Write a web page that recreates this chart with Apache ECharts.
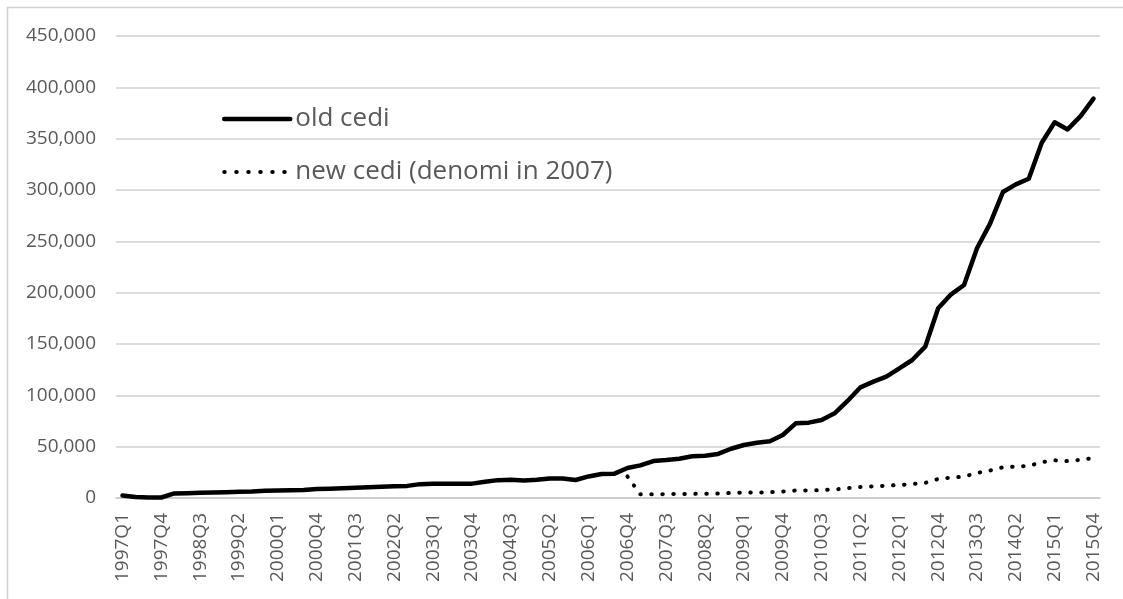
<!DOCTYPE html>
<html>
<head>
<meta charset="utf-8">
<script src="https://cdn.jsdelivr.net/npm/echarts@6/dist/echarts.min.js"></script>
<style>
  html, body { margin: 0; padding: 0; background: #fff; }
  #chart { width: 1123px; height: 599px; }
</style>
</head>
<body>
<div id="chart"></div>
<script>
// quarters 1997Q1 .. 2015Q4
var years = [];
for (var y = 1997; y <= 2015; y++) years.push(y);
var quarters = [];
years.forEach(function (yr) {
  [1, 2, 3, 4].forEach(function (q) { quarters.push(yr + 'Q' + q); });
});

// old cedi
var oldCedi = [
  2500, 1000, 500, 500, 4500, 4700, 5000, 5300, 5600, 6000,
  6300, 7000, 7300, 7500, 7700, 8700, 9000, 9500, 10000, 10500,
  11000, 11500, 11800, 13500, 13800, 13800, 13800, 14000, 15800, 17400,
  17700, 17000, 17700, 19000, 19000, 17500, 21000, 23400, 23700, 29200,
  31800, 36000, 37000, 38300, 40600, 41200, 42900, 48000, 51600, 53900,
  55200, 61400, 72700, 73400, 76000, 82500, 94500, 107800, 113300, 118200,
  126300, 134400, 147400, 184800, 198400, 207500, 243200, 267000, 298000, 305500,
  311000, 346000, 366000, 359000, 372000, 389000
];

// new cedi (starts 2006Q4)
var newCedi = [
  null, null, null, null, null, null, null, null, null, null,
  null, null, null, null, null, null, null, null, null, null,
  null, null, null, null, null, null, null, null, null, null,
  null, null, null, null, null, null, null, null, null, 21000,
  3600, 3700, 3800, 3900, 4000, 4100, 4300, 4900, 5200, 5400,
  5600, 6300, 7300, 7400, 7700, 8300, 9500, 10800, 11400, 11900,
  12700, 13500, 14800, 18500, 19900, 20800, 24400, 26800, 29900, 30600,
  31200, 34900, 36700, 35900, 37200, 38900
];

var seriesNames = ['old cedi', 'new cedi (denomi in 2007)'];

var myChart = echarts.init(document.getElementById('chart'), null, { renderer: 'canvas' });
var txt = '#595959';
var font = 'Open Sans';

var solidLine = { color: '#000', width: 4.5, cap: 'round', join: 'round' };
var dotLine = { color: '#000', width: 4, type: [0.5, 10.5], cap: 'round', join: 'round' };

myChart.setOption({
  animation: false,
  backgroundColor: '#fff',
  graphic: [{
    type: 'rect',
    shape: { x: 7.5, y: 7.5, width: 1130, height: 600 },
    style: { fill: 'none', stroke: '#d0d0d0', lineWidth: 1.5 },
    silent: true
  }],
  grid: { left: 116, right: 23, top: 36, bottom: 101 },
  legend: {
    orient: 'vertical',
    left: 222,
    top: 106,
    padding: 0,
    itemWidth: 66,
    itemHeight: 14,
    itemGap: 27,
    itemStyle: { opacity: 0 },
    data: [
      { name: seriesNames[0], lineStyle: solidLine },
      { name: seriesNames[1], lineStyle: { color: '#000', width: 4, type: [0.5, 11.5], cap: 'round' } }
    ],
    textStyle: { color: txt, fontSize: 26, fontFamily: font }
  },
  xAxis: {
    type: 'category',
    data: quarters,
    boundaryGap: true,
    axisLine: { lineStyle: { color: '#c8c8c8', width: 1.5 } },
    axisTick: { show: false },
    axisLabel: {
      interval: 2,
      rotate: 90,
      margin: 15,
      color: txt,
      fontSize: 19,
      fontFamily: font
    }
  },
  yAxis: {
    type: 'value',
    min: 0,
    max: 450000,
    interval: 50000,
    axisLine: { show: false },
    axisTick: { show: false },
    splitLine: { lineStyle: { color: '#d0d0d0', width: 1.5 } },
    axisLabel: {
      margin: 20,
      color: txt,
      fontSize: 19,
      fontFamily: font,
      formatter: function (v) { return v.toLocaleString('en-US'); }
    }
  },
  series: [{
    name: seriesNames[0],
    type: 'line',
    data: oldCedi,
    symbol: 'none',
    lineStyle: solidLine,
    itemStyle: { color: '#000' }
  }, {
    name: seriesNames[1],
    type: 'line',
    data: newCedi,
    symbol: 'none',
    lineStyle: dotLine,
    itemStyle: { color: '#000' }
  }]
});
</script>
</body>
</html>
